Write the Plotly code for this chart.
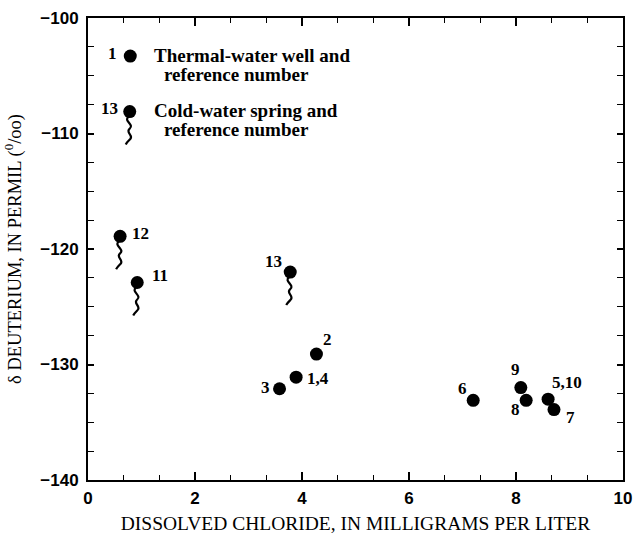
import plotly.graph_objects as go

# ---- data ----
well_labels = ["1,4", "2", "3", "5,10", "6", "7", "8", "9"]
well_x = [3.89, 4.27, 3.58, 8.60, 7.20, 8.71, 8.19, 8.09]
well_y = [-131.1, -129.1, -132.1, -133.0, -133.1, -133.9, -133.1, -132.0]

spring_labels = ["11", "12", "13"]
spring_x = [0.92, 0.60, 3.78]
spring_y = [-122.9, -118.9, -122.0]

legend_labels = ["1", "13"]
legend_kind = ["well", "spring"]
legend_x = [0.79, 0.78]
legend_y = [-103.3, -108.1]
legend_text = [["Thermal-water well and", "reference number"],
               ["Cold-water spring and", "reference number"]]

# ---- label pixel offsets (dx right, dy down) ----
well_off = {"1,4": (22, 1), "2": (11, -15), "3": (-14, -1), "5,10": (19, -17),
            "6": (-11, -12), "7": (17, 8), "8": (-11, 9), "9": (-5, -18)}
spring_off = {"11": (23, -7), "12": (20, -3), "13": (-17, -11)}
legend_off = {"1": (-18, -3), "13": (-20, -3)}

num_font = dict(family="Liberation Serif", size=17, color="black", weight="bold")
leg_font = dict(family="Liberation Serif", size=19, color="black", weight="bold")
tail_path = "M -1,-5 C -7,-9 5,-13 0,-17 C -5,-21 5,-24 0,-28 C -2,-30 -3,-31 -4,-33"

fig = go.Figure()
all_x = well_x + spring_x + legend_x
all_y = well_y + spring_y + legend_y
fig.add_trace(go.Scatter(x=all_x, y=all_y, mode="markers",
                         marker=dict(size=13, color="black"),
                         hoverinfo="skip", showlegend=False))

ann = []
shapes = []


def tail(x, y):
    return dict(type="path", xref="x", yref="y", xsizemode="pixel",
                ysizemode="pixel", xanchor=x, yanchor=y, path=tail_path,
                line=dict(color="black", width=2.2))


for lab, x, y in zip(well_labels, well_x, well_y):
    dx, dy = well_off[lab]
    ann.append(dict(x=x, y=y, text=lab, showarrow=False, xshift=dx, yshift=-dy,
                    font=num_font, xanchor="center", yanchor="middle"))
for lab, x, y in zip(spring_labels, spring_x, spring_y):
    dx, dy = spring_off[lab]
    ann.append(dict(x=x, y=y, text=lab, showarrow=False, xshift=dx, yshift=-dy,
                    font=num_font, xanchor="center", yanchor="middle"))
    shapes.append(tail(x, y))
for lab, kind, x, y, txt in zip(legend_labels, legend_kind, legend_x, legend_y, legend_text):
    dx, dy = legend_off[lab]
    ann.append(dict(x=x, y=y, text=lab, showarrow=False, xshift=dx, yshift=-dy,
                    font=num_font, xanchor="center", yanchor="middle"))
    ann.append(dict(x=x, y=y, text=txt[0], showarrow=False, xshift=22, yshift=1,
                    font=leg_font, xanchor="left", yanchor="middle"))
    ann.append(dict(x=x, y=y, text=txt[1], showarrow=False, xshift=32, yshift=-18,
                    font=leg_font, xanchor="left", yanchor="middle"))
    if kind == "spring":
        shapes.append(tail(x, y))

fig.update_layout(
    width=634, height=536,
    margin=dict(l=88, r=11, t=18, b=56),
    paper_bgcolor="white", plot_bgcolor="white",
    annotations=ann, shapes=shapes,
    xaxis=dict(range=[0, 10], dtick=2, tick0=0, showgrid=False, zeroline=False,
               automargin=False,
               showline=True, linecolor="black", linewidth=2, mirror="ticks",
               ticks="inside", ticklen=8, tickwidth=1.5, tickcolor="black",
               minor=dict(dtick=2/3, tick0=0, ticks="inside", ticklen=5,
                          tickwidth=1.2, tickcolor="black", showgrid=False),
               ticklabelstandoff=2,
               tickfont=dict(family="Liberation Sans", size=17, color="black", weight="bold"),
               title=dict(text="DISSOLVED CHLORIDE, IN MILLIGRAMS PER LITER",
                          font=dict(family="Liberation Serif", size=19.5, color="black"),
                          standoff=9)),
    yaxis=dict(range=[-140, -100], dtick=10, tick0=-100, showgrid=False, zeroline=False,
               automargin=False,
               showline=True, linecolor="black", linewidth=2, mirror="ticks",
               ticks="inside", ticklen=6, tickwidth=1.5, tickcolor="black",
               minor=dict(dtick=2.5, ticks="inside", ticklen=6,
                          tickwidth=1.2, tickcolor="black", showgrid=False),
               ticklabelstandoff=4,
               tickfont=dict(family="Liberation Sans", size=17, color="black", weight="bold"),
               title=dict(text="δ DEUTERIUM, IN PERMIL (<sup>0</sup>/oo)",
                          font=dict(family="Liberation Serif", size=18.5, color="black"),
                          standoff=14)),
)

fig.write_html("out.html")
